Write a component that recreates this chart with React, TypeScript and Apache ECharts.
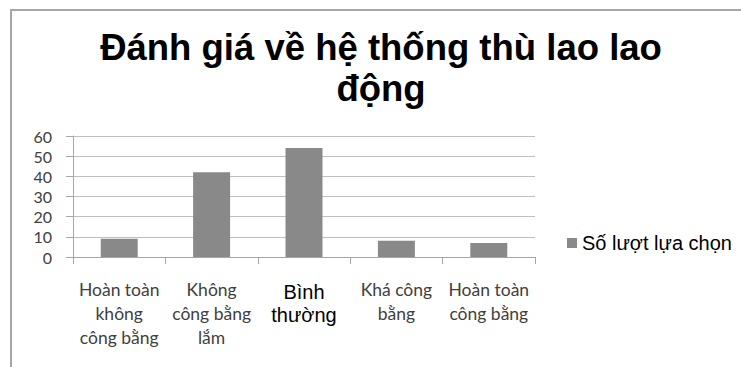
import React, { useEffect, useRef } from "react";
import * as echarts from "echarts";

const titleText = "Đánh giá về hệ thống thù lao lao\nđộng";
const categories = [
  "Hoàn toàn\nkhông\ncông bằng",
  "Không\ncông bằng\nlắm",
  "Bình\nthường",
  "Khá công\nbằng",
  "Hoàn toàn\ncông bằng",
];
const seriesName = "Số lượt lựa chọn";
const values = [9, 42, 54, 8, 7];
const yMin = 0;
const yMax = 60;
const yInterval = 10;

export default function App() {
  const ref = useRef<HTMLDivElement>(null);
  useEffect(() => {
    if (!ref.current) return;
    const chart = echarts.init(ref.current, undefined, { renderer: "svg" });
    chart.setOption({
      animation: false,
      backgroundColor: "#ffffff",
      graphic: [
        {
          type: "rect",
          shape: { x: 11, y: 10, width: 800, height: 400 },
          style: { fill: "none", stroke: "#a6a6a6", lineWidth: 2 },
          silent: true,
        },
      ],
      title: {
        text: titleText,
        left: 381,
        top: 27,
        padding: 0,
        textAlign: "center",
        textStyle: {
          fontFamily: "Liberation Sans",
          fontWeight: "bold",
          fontSize: 36.5,
          lineHeight: 41,
          color: "#000000",
        },
      },
      legend: {
        left: 567,
        top: 233,
        padding: 0,
        icon: "rect",
        itemWidth: 10,
        itemHeight: 10,
        itemGap: 10,
        textStyle: {
          fontFamily: "Liberation Sans",
          fontSize: 20,
          color: "#000000",
        },
        data: [seriesName],
      },
      grid: { left: 73, right: 206, top: 136, bottom: 110, containLabel: false },
      xAxis: {
        type: "category",
        data: categories.map((c, i) =>
          i === 2
            ? {
                value: c,
                textStyle: {
                  fontFamily: "Liberation Sans",
                  fontSize: 20,
                  color: "#000000",
                  lineHeight: 23,
                  padding: [3, 0, 0, 0],
                },
              }
            : c
        ),
        axisLine: { lineStyle: { color: "#a6a6a6", width: 1 } },
        axisTick: {
          show: true,
          alignWithLabel: false,
          length: 7,
          lineStyle: { color: "#a6a6a6" },
        },
        axisLabel: {
          interval: 0,
          margin: 20,
          fontFamily: "Lato",
          fontSize: 17.5,
          lineHeight: 24,
          color: "#404040",
        },
      },
      yAxis: {
        type: "value",
        min: yMin,
        max: yMax,
        interval: yInterval,
        axisLine: { show: true, lineStyle: { color: "#a6a6a6", width: 1 } },
        axisTick: { show: true, length: 7, lineStyle: { color: "#a6a6a6" } },
        splitLine: { lineStyle: { color: "#bfbfbf", width: 1 } },
        axisLabel: {
          margin: 21,
          fontFamily: "Lato",
          fontSize: 16,
          color: "#404040",
        },
      },
      series: [
        {
          name: seriesName,
          type: "bar",
          data: values,
          barCategoryGap: "60%",
          itemStyle: { color: "#898989" },
        },
      ],
    });
    return () => chart.dispose();
  }, []);
  return (
    <div
      ref={ref}
      style={{ position: "absolute", left: 0, top: 0, width: 741, height: 367 }}
    />
  );
}
